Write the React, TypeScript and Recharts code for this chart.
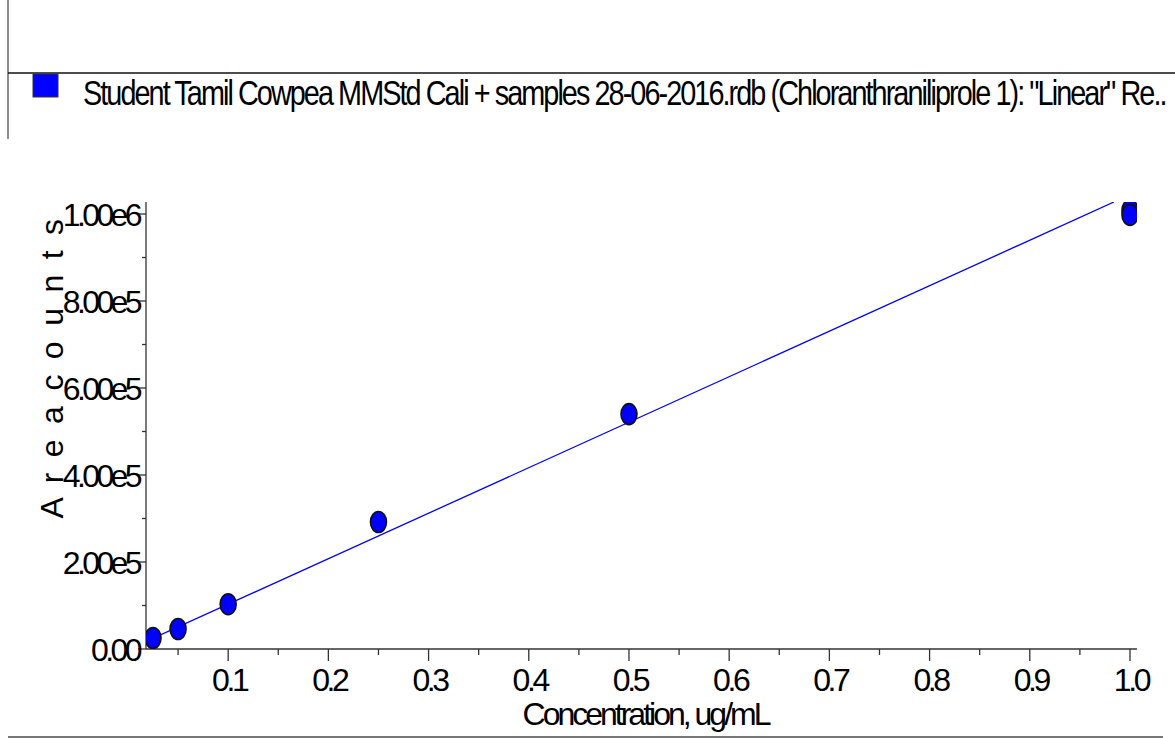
import React from 'react';
import { ScatterChart, Scatter, XAxis, YAxis } from 'recharts';

// calibration standards (concentration, ug/mL vs. area counts)
const concentration = [0.025, 0.05, 0.1, 0.25, 0.5, 1.0, 1.0];
const areaCounts = [25300, 46000, 103000, 292000, 540000, 1009000, 998000];

// "Linear" regression line end points
const fitConcentration = [0.018, 0.984];
const fitArea = [17200, 1027600];

const xTicks = [0.05, 0.1, 0.15, 0.2, 0.25, 0.3, 0.35, 0.4, 0.45, 0.5, 0.55, 0.6, 0.65, 0.7, 0.75, 0.8, 0.85, 0.9, 0.95, 1.0];
const yTicks = [0, 100000, 200000, 300000, 400000, 500000, 600000, 700000, 800000, 900000, 1000000];

const legendText =
  'Student Tamil Cowpea MMStd Cali + samples 28-06-2016.rdb (Chloranthraniliprole 1): "Linear" Re..';

const FONT = '"Liberation Sans", Arial, sans-serif';

const points = concentration.map((x, i) => ({ x, y: areaCounts[i] }));
const fitLine = fitConcentration.map((x, i) => ({ x, y: fitArea[i] }));

function isMajorX(v: number) {
  return Math.round(v * 100) % 10 === 0;
}

function isMajorY(v: number) {
  return Math.round(v / 100000) % 2 === 0;
}

function formatY(v: number) {
  if (v === 0) return '0.00';
  return v.toExponential(2).replace('e+', 'e');
}

function XTick({ x, y, payload }: any) {
  const major = isMajorX(payload.value);
  return (
    <g>
      <line x1={x} y1={y} x2={x} y2={y + (major ? 12 : 6)} stroke="#333" strokeWidth={1.3} />
      {major && (
        <text x={x + 1} y={y + 42} textAnchor="middle" fontFamily={FONT} fontSize={32} letterSpacing={-3.4} fill="#000">
          {payload.value.toFixed(1)}
        </text>
      )}
    </g>
  );
}

function YTick({ x, y, payload }: any) {
  const major = isMajorY(payload.value);
  return (
    <g>
      <line x1={x - (major ? 8 : 4)} y1={y} x2={x} y2={y} stroke="#333" strokeWidth={1.3} />
      {major && (
        <text x={x - 7} y={y + 12} textAnchor="end" fontFamily={FONT} fontSize={32} letterSpacing={-3.6} fill="#000">
          {formatY(payload.value)}
        </text>
      )}
    </g>
  );
}

function StdPoint({ cx, cy }: any) {
  if (cx == null || cy == null) return <g />;
  return <ellipse cx={cx} cy={cy} rx={8} ry={10.5} fill="#0000ff" stroke="#111" strokeWidth={1.6} />;
}

function NoPoint() {
  return <g />;
}

function XTitle({ viewBox }: any) {
  const cx = viewBox.x + viewBox.width / 2 + 4;
  return (
    <text x={cx} y={viewBox.y + 76} textAnchor="middle" fontFamily={FONT} fontSize={32}
      letterSpacing={-3.0} fill="#000">
      Concentration, ug/mL
    </text>
  );
}

function YTitle({ viewBox }: any) {
  const tx = viewBox.x + 17;
  const ty = viewBox.y + 165;
  return (
    <text x={tx} y={ty} transform={`rotate(-90 ${tx} ${ty})`} textAnchor="middle" fontFamily={FONT}
      fontSize={32} letterSpacing={3.3} fill="#000">
      A r e a  c o u n t s
    </text>
  );
}

// legend box + frame lines drawn by the original software
function Frame() {
  return (
    <svg width={1175} height={738} style={{ position: 'absolute', left: 0, top: 0, pointerEvents: 'none' }}>
      <line x1={8} y1={0} x2={8} y2={139} stroke="#666" strokeWidth={1.5} />
      <line x1={8} y1={73} x2={1175} y2={73} stroke="#111" strokeWidth={1.5} />
      <rect x={33} y={74} width={25} height={23} fill="#0000ff" stroke="#333" strokeWidth={1} />
      <text transform="translate(83 105) scale(0.8 1)" x={0} y={0} fontFamily={FONT} fontSize={36}
        letterSpacing={-2.4} fill="#000">
        {legendText}
      </text>
      <line x1={8} y1={737} x2={1163} y2={737} stroke="#777" strokeWidth={2} />
    </svg>
  );
}

export default function App() {
  return (
    <div style={{ position: 'absolute', left: 0, top: 0, width: 1175, height: 738, background: '#fff' }}>
      <ScatterChart width={1175} height={738} margin={{ top: 202, right: 38, bottom: 29, left: 46 }}>
        <XAxis
          type="number"
          dataKey="x"
          domain={[0.018, 1.007]}
          allowDataOverflow
          ticks={xTicks}
          interval={0}
          height={60}
          tickSize={0}
          tickMargin={0}
          tickLine={false}
          axisLine={{ stroke: '#333', strokeWidth: 1.3 }}
          tick={<XTick />}
          label={{ content: <XTitle /> }}
        />
        <YAxis
          type="number"
          dataKey="y"
          domain={[0, 1027600]}
          allowDataOverflow
          ticks={yTicks}
          interval={0}
          width={100}
          tickSize={0}
          tickMargin={0}
          tickLine={false}
          axisLine={{ stroke: '#333', strokeWidth: 1.3 }}
          tick={<YTick />}
          label={{ content: <YTitle /> }}
        />
        <Scatter
          name="Linear fit"
          data={fitLine}
          line={{ stroke: '#0000ff', strokeWidth: 1.3 }}
          shape={<NoPoint />}
          isAnimationActive={false}
        />
        <Scatter
          name="Standards"
          data={points}
          shape={<StdPoint />}
          isAnimationActive={false}
        />
      </ScatterChart>
      <Frame />
    </div>
  );
}
